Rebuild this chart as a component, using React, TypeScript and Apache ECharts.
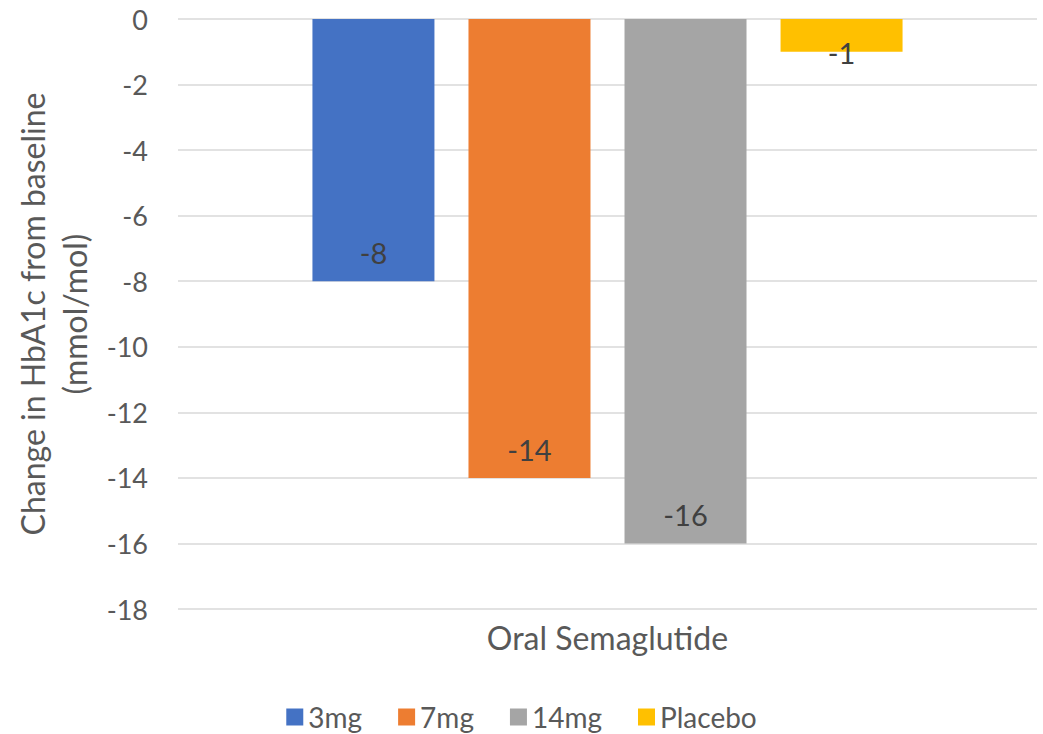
import React, { useEffect, useRef } from "react";
import * as echarts from "echarts";

const categories = ["Oral Semaglutide"];
const seriesNames = ["3mg", "7mg", "14mg", "Placebo"];
const seriesValues = [[-8], [-14], [-16], [-1]];
const colors = ["#4472C4", "#ED7D31", "#A5A5A5", "#FFC000"];
const yTicks = { min: -18, max: 0, interval: 2 };

const FONT = "Lato, 'Open Sans', sans-serif";
const TXT = "#595959";

export default function App() {
  const ref = useRef<HTMLDivElement>(null);
  useEffect(() => {
    const chart = echarts.init(ref.current!, undefined, { renderer: "svg" });
    chart.setOption({
      animation: false,
      textStyle: { fontFamily: FONT },
      grid: { left: 178, right: 6, top: 19, bottom: 125, containLabel: false },
      legend: {
        top: 702,
        left: "center",
        padding: 0,
        itemWidth: 17,
        itemHeight: 17,
        itemGap: 36,
        icon: "rect",
        textStyle: { fontSize: 28, color: TXT, fontFamily: FONT, lineHeight: 30 },
        data: seriesNames,
      },
      xAxis: {
        type: "category",
        data: categories,
        axisLine: { show: false },
        axisTick: { show: false },
        axisLabel: { fontSize: 32, color: TXT, margin: 12, fontFamily: FONT },
      },
      yAxis: {
        type: "value",
        min: yTicks.min,
        max: yTicks.max,
        interval: yTicks.interval,
        axisLine: { show: false },
        axisTick: { show: false },
        splitLine: { lineStyle: { color: "#D9D9D9", width: 1.5 } },
        axisLabel: { fontSize: 27, color: TXT, margin: 30, fontFamily: FONT },
        name: "Change in HbA1c from baseline\n(mmol/mol)",
        nameLocation: "middle",
        nameGap: 81,
        nameTextStyle: { fontSize: 32, color: TXT, lineHeight: 42, fontFamily: FONT },
      },
      series: seriesNames.map((name, i) => ({
        name,
        type: "bar",
        barWidth: 122,
        barGap: "27.9%",
        itemStyle: { color: colors[i] },
        data: seriesValues[i].map((v) =>
          v > -2
            ? { value: v, label: { position: "bottom", distance: -14 } }
            : v
        ),
        label: {
          show: true,
          position: "insideBottom",
          distance: 14,
          fontSize: 29,
          color: "#404040",
          fontFamily: FONT,
        },
      })),
    });
    return () => chart.dispose();
  }, []);
  return (
    <div
      ref={ref}
      style={{ position: "absolute", left: 0, top: 0, width: 1043, height: 734, background: "#fff" }}
    />
  );
}
